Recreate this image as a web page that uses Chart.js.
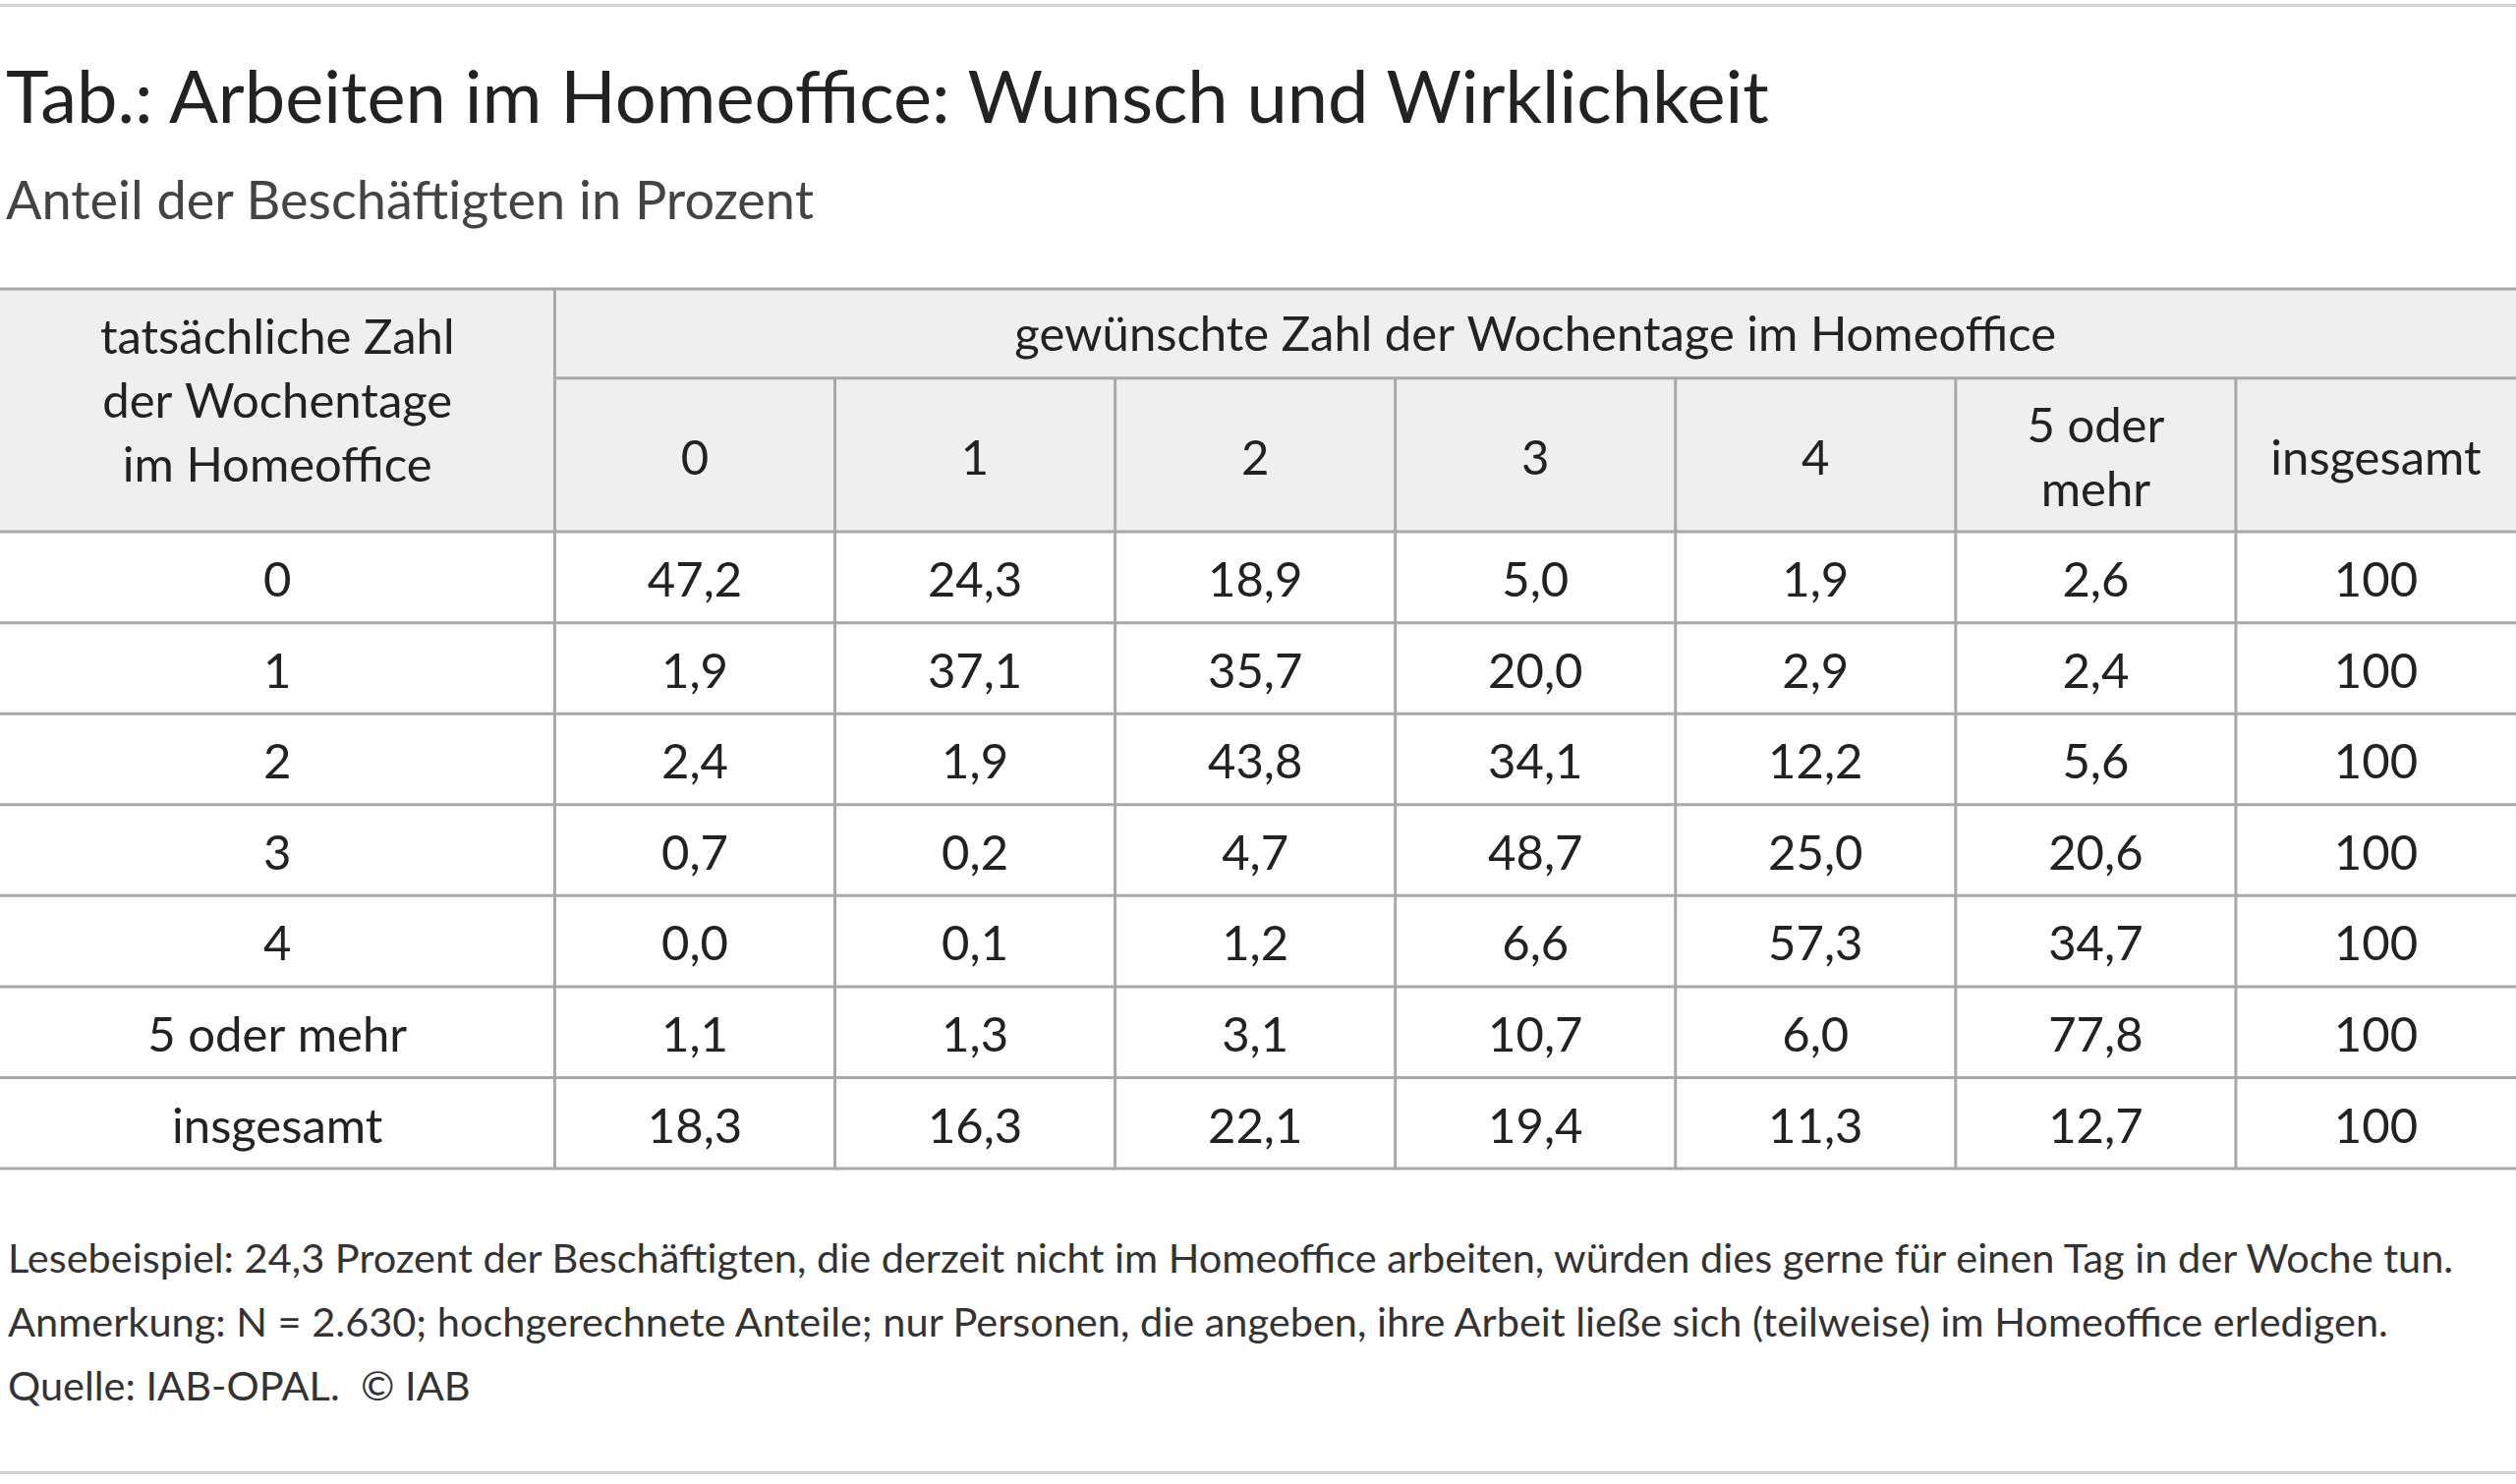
<!DOCTYPE html>
<html><head><meta charset="utf-8">
<script src="https://cdn.jsdelivr.net/npm/chart.js@4/dist/chart.umd.min.js"></script>
<style>
  body { margin:0; background:#fff; width:2560px; height:1510px; position:relative; font-family:Lato, "Open Sans", sans-serif; color:#222; overflow:hidden; }
  .rule { position:absolute; left:0; width:2560px; height:3px; background:#d4d4d4; }
  h1 { position:absolute; left:6px; top:60px; margin:0; font-weight:400; font-size:74px; line-height:1; }
  h2 { position:absolute; left:6px; top:176px; margin:0; font-weight:400; font-size:54px; line-height:1; color:#444; }
  #wrap { position:absolute; left:0; top:292px; width:2560px; height:900px; }
  .note { position:absolute; left:8px; font-size:41.5px; color:#333; white-space:nowrap; }
</style></head>
<body>
<div class="rule" style="top:4px"></div>
<h1>Tab.: Arbeiten im Homeoffice: Wunsch und Wirklichkeit</h1>
<h2>Anteil der Beschäftigten in Prozent</h2>
<div id="wrap"><canvas id="tbl" width="2560" height="900"></canvas></div>
<div class="note" style="top:1254px">Lesebeispiel: 24,3 Prozent der Beschäftigten, die derzeit nicht im Homeoffice arbeiten, würden dies gerne für einen Tag in der Woche tun.</div>
<div class="note" style="top:1319px">Anmerkung: N = 2.630; hochgerechnete Anteile; nur Personen, die angeben, ihre Arbeit ließe sich (teilweise) im Homeoffice erledigen.</div>
<div class="note" style="top:1384px">Quelle: IAB-OPAL.&nbsp; © IAB</div>
<div class="rule" style="top:1497px"></div>
<script>
const colHeader = 'gewünschte Zahl der Wochentage im Homeoffice';
const rowHeader = ['tatsächliche Zahl', 'der Wochentage', 'im Homeoffice'];
const colLabels = [['0'], ['1'], ['2'], ['3'], ['4'], ['5 oder', 'mehr'], ['insgesamt']];
const rowLabels = ['0', '1', '2', '3', '4', '5 oder mehr', 'insgesamt'];

const actual0 = ['47,2', '24,3', '18,9', '5,0', '1,9', '2,6', '100'];
const actual1 = ['1,9', '37,1', '35,7', '20,0', '2,9', '2,4', '100'];
const actual2 = ['2,4', '1,9', '43,8', '34,1', '12,2', '5,6', '100'];
const actual3 = ['0,7', '0,2', '4,7', '48,7', '25,0', '20,6', '100'];
const actual4 = ['0,0', '0,1', '1,2', '6,6', '57,3', '34,7', '100'];
const actual5 = ['1,1', '1,3', '3,1', '10,7', '6,0', '77,8', '100'];
const total   = ['18,3', '16,3', '22,1', '19,4', '11,3', '12,7', '100'];
const rows = [actual0, actual1, actual2, actual3, actual4, actual5, total];

// table grid in scale units: first column C0 wide, others 1; header 0.98 + 1.69, rows 1
const C0 = 1.98, XMAX = C0 + 7;
const H1 = 0.98, H2 = 2.67;
const FONT = '49px Lato, "Open Sans", sans-serif';
const LINE = '#a8a8a8';

const datasets = rows.map((r, i) => ({
  data: r.map((v, j) => ({ x: C0 + 0.5 + j, y: H2 + i + 0.5, t: v })),
  label: rowLabels[i],
  pointRadius: 0,
}));
datasets.push({
  data: rowLabels.map((l, i) => ({ x: C0 / 2, y: H2 + i + 0.5, t: l })),
  label: 'rows', pointRadius: 0,
});

const tablePlugin = {
  id: 'table',
  beforeDatasetsDraw(chart) {
    const { ctx, scales: { x, y } } = chart;
    const px = v => x.getPixelForValue(v), py = v => y.getPixelForValue(v);
    ctx.save();
    ctx.fillStyle = '#efefef';
    ctx.fillRect(px(0), py(0), px(XMAX) - px(0), py(H2) - py(0));
    ctx.strokeStyle = LINE;
    ctx.lineWidth = 3;
    const hline = (v, a, b) => { ctx.beginPath(); ctx.moveTo(px(a), py(v)); ctx.lineTo(px(b), py(v)); ctx.stroke(); };
    const vline = (v, a, b) => { ctx.beginPath(); ctx.moveTo(px(v), py(a)); ctx.lineTo(px(v), py(b)); ctx.stroke(); };
    hline(0, 0, XMAX);
    hline(H1, C0, XMAX);
    for (let i = 0; i <= rows.length; i++) hline(H2 + i, 0, XMAX);
    vline(C0, 0, H2 + rows.length);
    for (let c = 1; c < 7; c++) vline(C0 + c, H1, H2 + rows.length);
    ctx.fillStyle = '#222';
    ctx.font = FONT;
    ctx.textAlign = 'center';
    ctx.textBaseline = 'middle';
    ctx.fillText(colHeader, px((C0 + XMAX) / 2), py(H1 / 2) + 2);
    rowHeader.forEach((t, i) => ctx.fillText(t, px(C0 / 2), py(H2 / 2) - 8 + (i - 1) * 65));
    colLabels.forEach((l, j) => l.forEach((t, k) =>
      ctx.fillText(t, px(C0 + 0.5 + j), py((H1 + H2) / 2) + 4 + (k - (l.length - 1) / 2) * 65)));
    ctx.restore();
  },
  afterDatasetsDraw(chart) {
    const { ctx } = chart;
    ctx.save();
    ctx.fillStyle = '#222';
    ctx.font = FONT;
    ctx.textAlign = 'center';
    ctx.textBaseline = 'middle';
    chart.data.datasets.forEach((ds, i) => {
      chart.getDatasetMeta(i).data.forEach((el, j) => ctx.fillText(ds.data[j].t, el.x, el.y + 4));
    });
    ctx.restore();
  }
};

new Chart(document.getElementById('tbl'), {
  type: 'scatter',
  data: { datasets },
  options: {
    responsive: false,
    devicePixelRatio: 1,
    animation: false,
    layout: { padding: { top: 2, bottom: 3, left: 0, right: 0 } },
    plugins: { legend: { display: false }, tooltip: { enabled: false } },
    scales: {
      x: { type: 'linear', min: 0, max: XMAX, display: false },
      y: { type: 'linear', min: 0, max: H2 + rows.length, reverse: true, display: false },
    },
  },
  plugins: [tablePlugin],
});
</script>
</body></html>
